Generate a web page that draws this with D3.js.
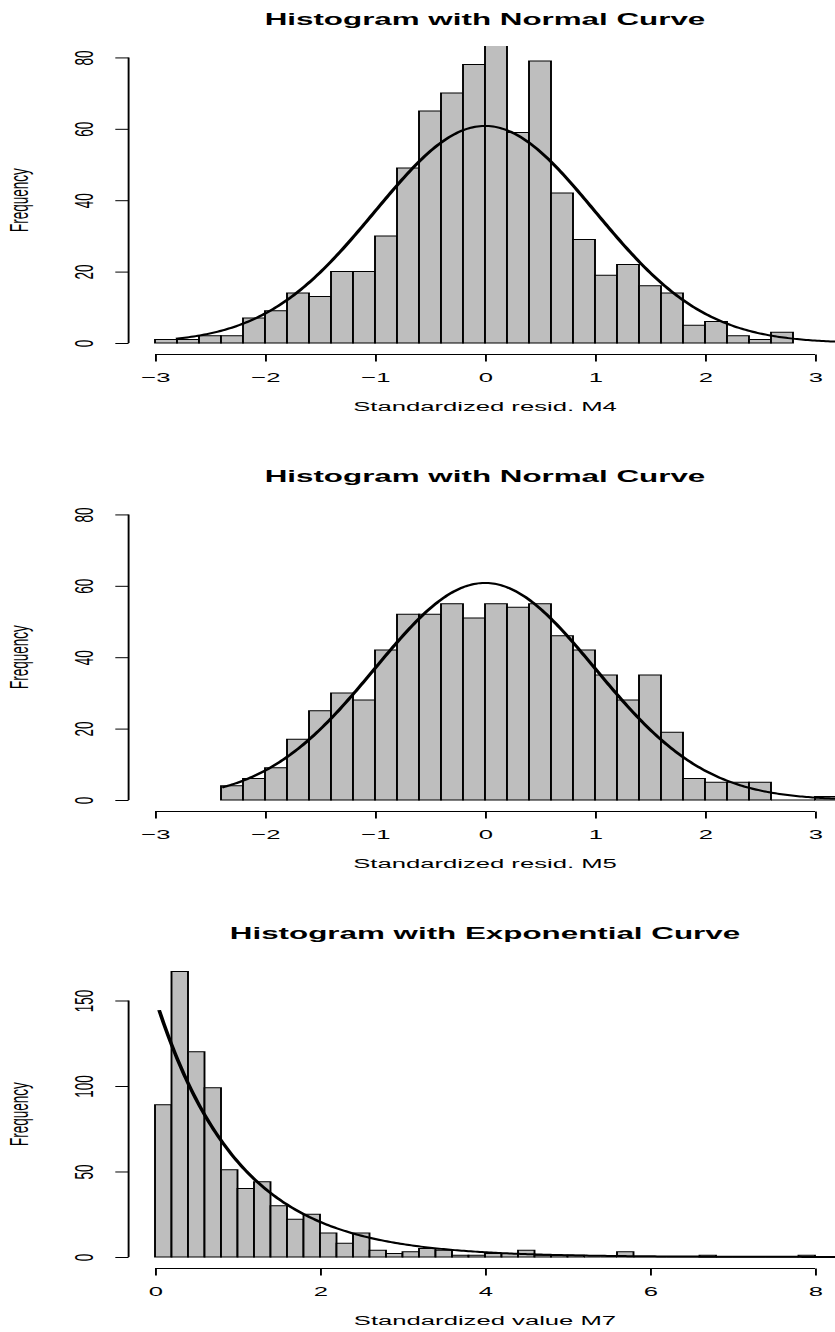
<!DOCTYPE html>
<html>
<head>
<meta charset="utf-8">
<script src="https://cdn.jsdelivr.net/npm/d3@7"></script>
<style>
  body { margin: 0; background: #fff; }
  svg { display: block; }
</style>
</head>
<body>
<svg id="fig" width="835" height="1332"></svg>
<script>
// ---- data: histogram counts (bins of width 0.2) ----
const binWidth = 0.2;

const m4Start = -3.0;
const m4Counts = [1, 1, 2, 2, 7, 9, 14, 13, 20, 20, 30, 49, 65, 70, 78, 84,
                  59, 79, 42, 29, 19, 22, 16, 14, 5, 6, 2, 1, 3];

const m5Start = -2.4;
const m5Counts = [4, 6, 9, 17, 25, 30, 28, 42, 52, 52, 55, 51, 55, 54,
                  55, 46, 42, 35, 28, 35, 19, 6, 5, 5, 5, 0, 0, 1];

const m7Start = 0;
const m7Counts = [89, 167, 120, 99, 51, 40, 44, 30, 22, 25, 14, 8, 14, 4, 2, 3, 5, 4, 1, 1,
                  2, 2, 4, 1, 1, 1, 0, 0, 3, 0, 0, 0, 0, 1, 0, 0, 0, 0, 0, 1];

// fitted densities: normal [mean, sd], exponential [rate]
const m4Fit = [0, 1];
const m5Fit = [0, 1];
const m7Rate = [1];
// curves are drawn from the smallest observation onward
const curveFrom = [-2.81, -2.39, 0.05];

const titles = ["Histogram with Normal Curve", "Histogram with Normal Curve",
                "Histogram with Exponential Curve"];
const xLabels = ["Standardized resid. M4", "Standardized resid. M5", "Standardized value M7"];
const yLabel = "Frequency";

const xTicksNormal = [-3, -2, -1, 0, 1, 2, 3];
const yTicksNormal = [0, 20, 40, 60, 80];
const xTicksExp = [0, 2, 4, 6, 8];
const yTicksExp = [0, 50, 100, 150];

// ---- layout ----
// the figure is drawn in a horizontally stretched frame (K)
const K = 1.9;
const panelStep = 457;
const plotTop = 46, plotH = 308.4, plotBottom = plotTop + plotH;
const plotLeft = 128.6 / K, plotRight = 841.4 / K;
const fontAxis = 13.5;
const capH = 0.716 * fontAxis;
const tickLabelBase = 84 / K + capH / 2;   // baseline of rotated y tick labels
const yLabelBase = 10 / K + capH;          // baseline of rotated "Frequency"
const fmt = d3.format("d");

const normalDensity = (x, [m, s]) => Math.exp(-0.5 * ((x - m) / s) ** 2) / (s * Math.sqrt(2 * Math.PI));
const expDensity = (x, [r]) => r * Math.exp(-r * x);

const panels = [
  { start: m4Start, counts: m4Counts, xlim: [-3, 3], ylim: [0, 80], xt: xTicksNormal, yt: yTicksNormal,
    dens: x => normalDensity(x, m4Fit) },
  { start: m5Start, counts: m5Counts, xlim: [-3, 3], ylim: [0, 80], xt: xTicksNormal, yt: yTicksNormal,
    dens: x => normalDensity(x, m5Fit) },
  { start: m7Start, counts: m7Counts, xlim: [0, 8], ylim: [0, d3.max(m7Counts)], xt: xTicksExp, yt: yTicksExp,
    dens: x => expDensity(x, m7Rate) }
];

const svg = d3.select("#fig");
svg.append("rect").attr("width", 835).attr("height", 1332).attr("fill", "#fff");

// R-style 4% axis extension
const extend = ([a, b]) => { const d = (b - a) * 0.04; return [a - d, b + d]; };

panels.forEach((p, i) => {
  const g = svg.append("g")
    .attr("transform", `translate(0,${i * panelStep}) scale(${K},1)`)
    .attr("font-family", "'Liberation Sans', Arial, Helvetica, sans-serif");

  const x = d3.scaleLinear().domain(extend(p.xlim)).range([plotLeft, plotRight]);
  const y = d3.scaleLinear().domain(extend(p.ylim)).range([plotBottom, plotTop]);

  const clipId = `clip${i}`;
  g.append("clipPath").attr("id", clipId)
    .append("rect").attr("x", plotLeft).attr("y", plotTop)
    .attr("width", plotRight - plotLeft).attr("height", plotH);

  const plot = g.append("g").attr("clip-path", `url(#${clipId})`);

  // bars (zero counts still show as a flat outline on the baseline)
  const bins = p.counts.map((c, j) => ({ x0: p.start + j * binWidth, x1: p.start + (j + 1) * binWidth, c }));
  plot.selectAll("path.bar").data(bins).join("path")
    .attr("class", "bar")
    .attr("d", b => {
      const x0 = x(b.x0), x1 = x(b.x1), y0 = y(0), y1 = y(b.c);
      return `M${x0},${y0}H${x1}V${y1}H${x0}Z`;
    })
    .attr("fill", "#bebebe")
    .attr("stroke", "#000")
    .attr("stroke-width", 1);

  // fitted curve
  const n = d3.sum(p.counts);
  const xEnd = x.domain()[1];
  const from = curveFrom[i];
  const pts = d3.range(0, 301).map(k => from + (xEnd - from) * k / 300);
  plot.append("path")
    .datum(pts)
    .attr("d", d3.line().x(v => x(v)).y(v => y(n * binWidth * p.dens(v))))
    .attr("fill", "none")
    .attr("stroke", "#000")
    .attr("stroke-width", 2);

  // x axis
  const xa = g.append("g").attr("transform", `translate(0,${plotBottom})`)
    .call(d3.axisBottom(x).tickValues(p.xt).tickFormat(fmt).tickSize(7).tickSizeOuter(0));
  xa.select(".domain").remove();
  xa.append("line")
    .attr("x1", x(p.xt[0])).attr("x2", x(p.xt[p.xt.length - 1]))
    .attr("stroke", "#000");
  xa.selectAll(".tick line").attr("stroke", "#000");
  xa.selectAll(".tick text")
    .attr("y", 27.5).attr("dy", null)
    .attr("fill", "#000")
    .attr("font-size", fontAxis)
    .attr("font-family", "'Liberation Sans', Arial, sans-serif");

  // y axis with labels parallel to the axis
  const ya = g.append("g").attr("transform", `translate(${plotLeft},0)`)
    .call(d3.axisLeft(y).tickValues(p.yt).tickFormat(fmt).tickSize(7).tickSizeOuter(0));
  ya.select(".domain").remove();
  ya.append("line")
    .attr("y1", y(p.yt[0])).attr("y2", y(p.yt[p.yt.length - 1]))
    .attr("stroke", "#000");
  ya.selectAll(".tick line").attr("stroke", "#000");
  ya.selectAll(".tick text")
    .attr("x", null).attr("dy", null)
    .attr("text-anchor", "middle")
    .attr("transform", `translate(${tickLabelBase - plotLeft},0) rotate(-90)`)
    .attr("fill", "#000")
    .attr("font-size", fontAxis)
    .attr("font-family", "'Liberation Sans', Arial, sans-serif");

  // titles and axis labels
  const cx = (plotLeft + plotRight) / 2;
  g.append("text")
    .attr("x", cx).attr("y", plotTop - 21)
    .attr("text-anchor", "middle")
    .attr("font-weight", "bold")
    .attr("font-size", 16.5)
    .text(titles[i]);

  g.append("text")
    .attr("x", cx).attr("y", plotBottom + 57)
    .attr("text-anchor", "middle")
    .attr("font-size", fontAxis)
    .text(xLabels[i]);

  g.append("text")
    .attr("transform", `translate(${yLabelBase},${(plotTop + plotBottom) / 2}) rotate(-90)`)
    .attr("text-anchor", "middle")
    .attr("font-size", fontAxis)
    .text(yLabel);
});
</script>
</body>
</html>
